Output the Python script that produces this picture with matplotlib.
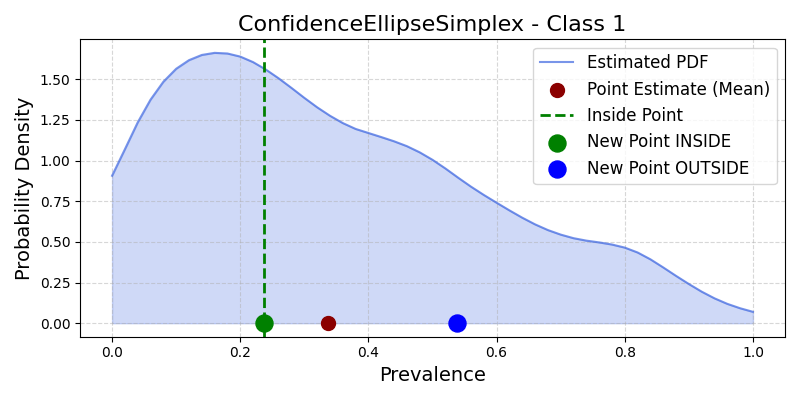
import matplotlib
matplotlib.use("Agg")
import matplotlib.pyplot as plt

# Estimated PDF (x step 0.02)
x_grid = [0.00, 0.02, 0.04, 0.06, 0.08, 0.10, 0.12, 0.14, 0.16, 0.18,
          0.20, 0.22, 0.24, 0.26, 0.28, 0.30, 0.32, 0.34, 0.36, 0.38,
          0.40, 0.42, 0.44, 0.46, 0.48, 0.50, 0.52, 0.54, 0.56, 0.58,
          0.60, 0.62, 0.64, 0.66, 0.68, 0.70, 0.72, 0.74, 0.76, 0.78,
          0.80, 0.82, 0.84, 0.86, 0.88, 0.90, 0.92, 0.94, 0.96, 0.98, 1.00]
pdf_vals = [0.907, 1.070, 1.235, 1.375, 1.485, 1.565, 1.618, 1.650, 1.663, 1.659,
            1.640, 1.606, 1.560, 1.506, 1.447, 1.386, 1.328, 1.276, 1.231, 1.195,
            1.170, 1.145, 1.119, 1.089, 1.051, 1.005, 0.952, 0.895, 0.840, 0.789,
            0.741, 0.694, 0.649, 0.608, 0.573, 0.545, 0.523, 0.508, 0.497, 0.484,
            0.465, 0.435, 0.393, 0.343, 0.291, 0.241, 0.194, 0.153, 0.119, 0.092, 0.070]

point_estimate = 0.337
inside_point = 0.237
outside_point = 0.538

fig, ax = plt.subplots(figsize=(8, 4), dpi=100)
ax.plot(x_grid, pdf_vals, color="royalblue", alpha=0.7, label="Estimated PDF")
ax.fill_between(x_grid, pdf_vals, color="royalblue", alpha=0.25)
ax.scatter([point_estimate], [0], color="darkred", s=100, zorder=5, label="Point Estimate (Mean)")
ax.axvline(inside_point, color="green", linestyle="--", linewidth=2, label="Inside Point")
ax.scatter([inside_point], [0], color="green", s=150, zorder=5, label="New Point INSIDE")
ax.scatter([outside_point], [0], color="blue", s=150, zorder=5, label="New Point OUTSIDE")

ax.set_title("ConfidenceEllipseSimplex - Class 1", fontsize=16)
ax.set_xlabel("Prevalence", fontsize=14)
ax.set_ylabel("Probability Density", fontsize=14)
ax.legend(fontsize=12, loc="upper right")
ax.grid(True, linestyle="--", alpha=0.5)
fig.tight_layout()
fig.savefig("out.png", dpi=100)
